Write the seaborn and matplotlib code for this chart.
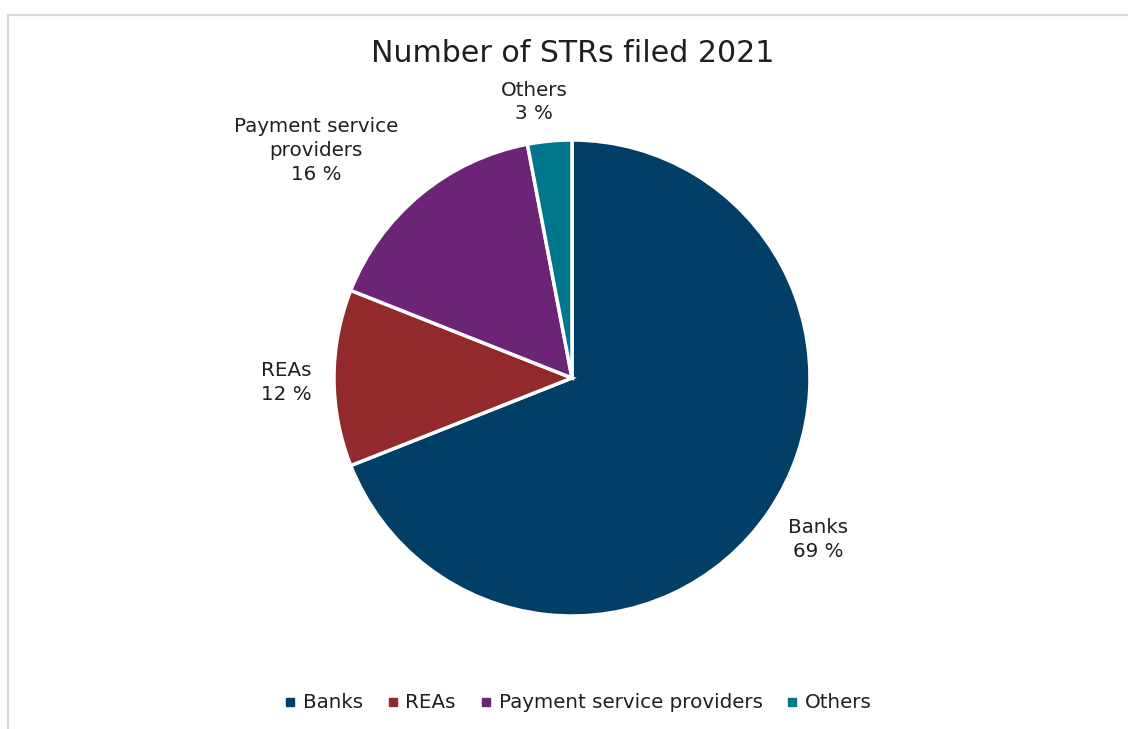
import matplotlib
matplotlib.use("Agg")
import matplotlib.pyplot as plt
from matplotlib.patches import Rectangle
from matplotlib.lines import Line2D
import seaborn as sns

# Share of suspicious transaction reports by reporting entity type
categories = ["Banks", "REAs", "Payment service providers", "Others"]
shares = [69, 12, 16, 3]
label_texts = ["Banks\n69 %", "REAs\n12 %", "Payment service\nproviders\n16 %", "Others\n3 %"]
colors = ["#023F66", "#922A2D", "#6B2476", "#00778A"]

# label anchor points, in pie radius units
label_pos = [(1.035, -0.68), (-1.20, -0.02), (-1.075, 0.955), (-0.16, 1.16)]

sns.set_theme(style="white")
plt.rcParams["font.family"] = ["DejaVu Sans"]

W, H = 1128, 729
fig = plt.figure(figsize=(W / 100, H / 100), dpi=100)
fig.patch.set_facecolor("white")

# frame around the chart area
fig.add_artist(Rectangle((7.5 / W, -0.05), 1.2, 1 - 14.5 / H + 0.05,
                         transform=fig.transFigure, fill=False,
                         edgecolor="#d9d9d9", linewidth=1.6))

cx, cy, r = 572, 378, 238
ax = fig.add_axes([(cx - r) / W, (H - cy - r) / H, 2 * r / W, 2 * r / H])
wedges, _ = ax.pie(shares, colors=colors, startangle=90, counterclock=False,
                   radius=1.0, wedgeprops=dict(edgecolor="white", linewidth=2.5))
ax.set_xlim(-1, 1)
ax.set_ylim(-1, 1)
ax.set_aspect("equal")
ax.axis("off")

text_color = "#1f1f1f"
for txt, (lx, ly) in zip(label_texts, label_pos):
    ax.text(lx, ly, txt, ha="center", va="center", fontsize=14.3,
            color=text_color, linespacing=1.32, clip_on=False)

fig.text(573 / W, 1 - 53 / H, "Number of STRs filed 2021", ha="center", va="center",
         fontsize=21.6, color=text_color)

handles = [Line2D([0], [0], marker="s", linestyle="none", markersize=5.5,
                  markerfacecolor=c, markeredgecolor=c) for c in colors]
fig.legend(handles, categories, loc="center", bbox_to_anchor=(578 / W, 1 - 703 / H),
           ncol=4, frameon=False, fontsize=14.3, handlelength=0.6, handletextpad=0.35,
           columnspacing=1.2, labelcolor=text_color)

fig.savefig("out.png", dpi=100, facecolor="white")
